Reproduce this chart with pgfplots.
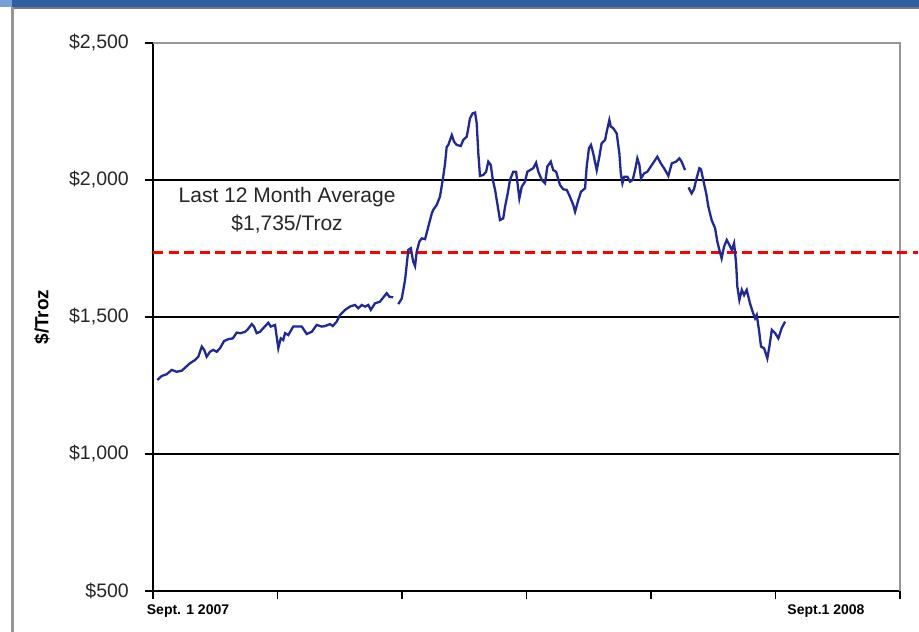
\documentclass[border=0pt]{standalone}
\usepackage{fontspec}
\setmainfont{Liberation Sans}
\usepackage{pgfplots}
\pgfplotsset{compat=1.18}

\definecolor{hdrblue}{RGB}{46,94,162}
\definecolor{hdrlight}{RGB}{120,160,215}
\definecolor{framegray}{RGB}{150,150,150}
\definecolor{pricenavy}{RGB}{32,40,152}

\begin{document}
\begin{tikzpicture}
\path[use as bounding box] (0bp,0bp) rectangle (919bp,632bp);
% panel header and border
\fill[white] (0bp,0bp) rectangle (919bp,632bp);
\fill[hdrblue] (0bp,624.5bp) rectangle (919bp,632bp);
\fill[hdrlight] (0bp,632bp) -- (12bp,632bp) -- (12bp,624.5bp) -- (0bp,624.5bp) -- cycle;
\draw[framegray!80!black, line width=2bp] (12bp,623.5bp) -- (919bp,623.5bp);
\draw[framegray, line width=3bp] (12bp,0bp) -- (12bp,624.5bp);

\begin{axis}[
  at={(153bp,41bp)}, anchor=south west,
  width=747bp, height=548bp, scale only axis,
  xmin=0, xmax=366, ymin=500, ymax=2500,
  axis x line*=bottom, axis y line*=left,
  axis line style={black, line width=1.4bp, -},
  clip=false,
  tick align=outside,
  major tick length=8bp,
  tick style={black, line width=1.2bp},
  xtick={0,61,122,183,244,305,366},
  xticklabels={},
  ytick={500,1000,1500,2000,2500},
  yticklabels={{\$500},{\$1,000},{\$1,500},{\$2,000},{\$2,500}},
  yticklabel style={font=\fontsize{19.5bp}{23bp}\selectfont, color=black!85, inner sep=0pt, anchor=east, xshift=-16bp},
  ymajorgrids,
  major grid style={black, line width=1.3bp},
]
% plot frame, top and right
\draw[framegray, line width=2bp] (axis cs:0,2500) -- (axis cs:366,2500) -- (axis cs:366,500);

% 12-month average
\addplot[red, line width=3.4bp, dash pattern=on 10bp off 5.5bp] coordinates {(0,1735) (375,1735)};

% daily price, Sept 2007 - Jan 2008
\addplot[pricenavy, line width=2.3bp] coordinates {
(2.1,1270) (4.3,1285) (6.7,1291) (9.2,1307) (11.6,1300) (14.1,1304) (15.7,1315)
(18.1,1331) (20.6,1343) (22.2,1355) (23.9,1392) (25.1,1380) (26.3,1355) (27.9,1373)
(29.5,1380) (31.2,1373) (32.8,1386) (34.8,1412) (36.9,1419) (39.1,1422) (41.0,1443)
(43.0,1441) (45.1,1446) (46.2,1453) (48.4,1474) (49.5,1465) (50.8,1441) (52.4,1446)
(54.0,1459) (56.5,1479) (57.7,1465) (59.8,1471) (61.4,1386) (62.6,1422) (63.8,1416)
(64.7,1441) (66.3,1434) (68.7,1465) (71.7,1465) (72.9,1465) (75.3,1438) (77.8,1446)
(80.2,1471) (82.7,1465) (84.3,1467) (86.7,1474) (88.1,1467) (90.0,1483) (91.6,1507)
(94.1,1526) (96.5,1538) (99.0,1544) (100.6,1532) (102.3,1544) (103.9,1538) (105.5,1544)
(106.7,1526) (108.8,1550) (111.2,1556) (114.5,1587) (115.8,1574) (117.7,1572)
};
% Jan - Jul 2008
\addplot[pricenavy, line width=2.3bp] coordinates {
(120.2,1547) (121.9,1568) (123.5,1635) (125.1,1745) (126.3,1751) (127.5,1702) (128.4,1686)
(129.2,1738) (130.5,1775) (131.7,1787) (133.3,1784) (134.9,1830) (136.6,1878) (137.3,1891)
(139.0,1909) (140.6,1939) (142.2,2012) (143.1,2061) (143.9,2121) (144.7,2128) (146.4,2164)
(147.5,2140) (148.8,2128) (150.8,2124) (152.0,2146) (153.7,2158) (154.5,2189) (155.3,2225)
(156.6,2243) (157.8,2246) (158.6,2207) (159.4,2097) (160.2,2015) (161.8,2018) (163.2,2030)
(164.3,2067) (165.5,2055) (166.5,2000) (167.6,1964) (169.2,1891) (170.0,1854) (171.6,1860)
(172.5,1903) (173.8,1951) (174.9,2000) (176.5,2030) (177.9,2030) (178.5,1994) (179.5,1933)
(180.7,1976) (182.3,1994) (183.4,2030) (184.7,2036) (186.3,2043) (187.7,2063) (188.8,2030)
(190.5,2000) (192.1,1988) (193.2,2049) (194.9,2067) (196.1,2036) (197.5,2030) (199.4,1982)
(201.0,1966) (202.7,1964) (204.3,1939) (205.9,1909) (206.8,1884) (208.4,1927) (209.7,1957)
(211.7,1970) (212.5,2049) (213.6,2116) (214.6,2128) (215.7,2097) (217.4,2036) (218.7,2085)
(219.8,2134) (221.5,2146) (222.3,2176) (223.6,2219) (224.3,2195) (225.5,2189) (227.2,2170)
(228.5,2097) (229.2,2024) (230.0,1988) (230.9,2012) (232.4,2012) (233.7,1994) (235.0,2000)
(236.2,2036) (237.3,2079) (238.3,2055) (239.1,2006) (240.6,2024) (242.2,2030) (243.9,2049)
(245.5,2067) (247.1,2085) (248.8,2061) (250.4,2043) (252.5,2015) (254.2,2061) (256.3,2067)
(257.9,2079) (259.0,2067) (260.7,2036)
};
% Jul - Sept 2008
\addplot[pricenavy, line width=2.3bp] coordinates {
(262.4,1973) (263.9,1951) (265.1,1967) (266.1,2000) (267.7,2043) (268.5,2039) (269.6,2000)
(271.1,1949) (272.1,1903) (273.7,1854) (275.4,1824) (276.5,1775) (277.5,1745) (278.6,1714)
(279.8,1757) (281.1,1781) (282.4,1763) (283.6,1745) (284.7,1769) (285.7,1696) (286.3,1611)
(287.3,1562) (288.5,1599) (289.6,1580) (290.9,1599) (292.5,1550) (293.8,1519) (295.0,1495)
(295.8,1507) (296.9,1453) (297.9,1392) (299.4,1386) (301.0,1349) (302.0,1392) (303.2,1453)
(304.8,1441) (306.4,1422) (308.0,1459) (309.7,1483)
};

% labels
\node[font=\fontsize{21bp}{24bp}\selectfont, color=black!85] at (axis cs:65.7,1938) {Last 12 Month Average};
\node[font=\fontsize{21bp}{24bp}\selectfont, color=black!85] at (axis cs:65.7,1839) {\$1,735/Troz};
\end{axis}

% axis titles and date labels
\node[font=\bfseries\fontsize{19bp}{22bp}\selectfont, rotate=90] at (42bp,315bp) {\$/Troz};
\node[font=\bfseries\fontsize{14bp}{16bp}\selectfont] at (188bp,21bp) {Sept. 1 2007};
\node[font=\bfseries\fontsize{14bp}{16bp}\selectfont] at (826bp,21bp) {Sept.1 2008};
\end{tikzpicture}
\end{document}
